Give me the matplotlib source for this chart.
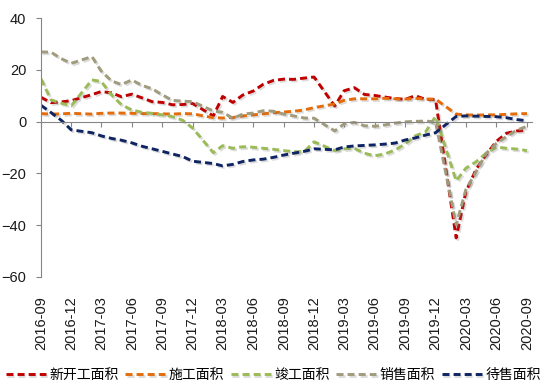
import matplotlib
matplotlib.use("Agg")
import matplotlib.pyplot as plt
import matplotlib.dates as mdates
import matplotlib.patheffects as pe
import pandas as pd

plt.rcParams['font.family'] = ['Liberation Sans', 'Noto Sans CJK SC', 'DejaVu Sans']

months = ['2016-09', '2016-10', '2016-11', '2016-12',
          '2017-02', '2017-03', '2017-04', '2017-05', '2017-06', '2017-07', '2017-08',
          '2017-09', '2017-10', '2017-11', '2017-12',
          '2018-02', '2018-03', '2018-04', '2018-05', '2018-06', '2018-07', '2018-08',
          '2018-09', '2018-10', '2018-11', '2018-12',
          '2019-02', '2019-03', '2019-04', '2019-05', '2019-06', '2019-07', '2019-08',
          '2019-09', '2019-10', '2019-11', '2019-12',
          '2020-02', '2020-03', '2020-04', '2020-05', '2020-06', '2020-07', '2020-08',
          '2020-09']

new_start = [9.4, 7.3, 7.6, 8.1,
             10.4, 11.6, 11.1, 9.6, 10.6, 9.2, 7.7, 7.4, 6.5, 6.6, 7.0,
             2.2, 9.7, 7.4, 10.3, 11.8, 14.4, 15.9, 16.4, 16.3, 16.8, 17.2,
             6.0, 11.9, 13.1, 10.5, 10.1, 9.5, 8.9, 8.6, 10.0, 8.6, 8.5,
             -44.9, -27.2, -18.4, -12.8, -7.6, -4.5, -3.6, -3.4]

construction = [3.1, 2.9, 3.0, 3.2,
                2.9, 3.2, 3.3, 3.3, 3.2, 3.1, 3.1, 3.0, 2.9, 3.1, 3.0,
                1.5, 1.4, 1.6, 2.2, 2.6, 3.0, 3.4, 3.7, 4.0, 4.5, 5.4,
                6.8, 8.2, 8.8, 8.8, 8.8, 9.0, 8.8, 8.7, 9.0, 8.7, 8.7,
                2.9, 2.6, 2.5, 2.6, 2.6, 2.8, 3.0, 3.1]

completion = [16.5, 8.4, 7.1, 6.1,
              16.1, 15.5, 10.3, 6.5, 4.5, 3.6, 3.2, 2.6, 1.9, 0.5, -2.5,
              -12.0, -9.3, -10.3, -9.7, -9.9, -10.3, -10.7, -11.2, -11.6, -11.6, -7.8,
              -11.2, -10.5, -10.3, -12.2, -13.2, -12.5, -11.0, -8.6, -5.5, -4.0, 2.0,
              -22.9, -18.0, -15.5, -12.2, -9.8, -10.3, -10.6, -11.2]

sales = [26.9, 26.8, 24.3, 22.5,
         25.1, 19.5, 15.7, 14.3, 16.1, 14.0, 12.7, 10.3, 8.2, 7.9, 7.7,
         4.1, 3.6, 1.3, 2.9, 3.3, 4.2, 4.0, 2.9, 2.2, 1.4, 1.3,
         -3.6, -0.9, -0.3, -1.6, -1.8, -1.3, -0.6, -0.1, 0.1, 0.2, -0.1,
         -39.9, -26.3, -19.3, -12.3, -8.4, -5.8, -3.3, -1.8]

for_sale = [6.3, 3.5, 0.5, -3.2,
            -4.3, -5.5, -6.5, -7.2, -8.2, -9.5, -10.5, -11.5, -12.5, -13.5, -15.3,
            -16.2, -17.1, -16.5, -15.4, -14.8, -14.5, -13.8, -12.9, -12.2, -11.5, -10.5,
            -10.9, -9.8, -9.4, -9.2, -9.0, -8.7, -8.3, -7.1, -6.3, -5.2, -4.3,
            2.0, 2.2, 2.1, 2.0, 1.9, 1.5, 0.8, 0.3]

series_names = ['新开工面积', '施工面积', '竣工面积', '销售面积', '待售面积']
series_values = [new_start, construction, completion, sales, for_sale]
series_colors = ['#C00000', '#E46C0A', '#9BBB59', '#A09B7C', '#0F2462']

dates = pd.to_datetime(months, format='%Y-%m')

fig = plt.figure(figsize=(5.5, 3.87), dpi=100)
ax = fig.add_axes([41 / 550, 1 - 277 / 387, (532 - 41) / 550, (277 - 18) / 387])

lw = 2.1
for name, vals, col in zip(series_names, series_values, series_colors):
    ax.plot(dates, vals, color=col, lw=lw, dashes=(2.4, 1.4), label=name,
            path_effects=[pe.SimpleLineShadow(offset=(1.2, -1.2), shadow_color='#777777', alpha=0.25),
                          pe.Normal()])

ax.set_ylim(-60, 40)
ax.set_yticks([-60, -40, -20, 0, 20, 40])
ax.set_xlim(pd.Timestamp('2016-09-01'), pd.Timestamp('2020-09-16'))

grey = '#868686'
for s in ['top', 'right']:
    ax.spines[s].set_visible(False)
ax.spines['left'].set_color(grey)
ax.spines['bottom'].set_color(grey)
ax.spines['bottom'].set_position(('data', 0))
ax.tick_params(axis='y', direction='out', length=3.6, color=grey, labelsize=10.5, pad=7, labelcolor='#1a1a1a')
ax.tick_params(axis='x', direction='out', length=3.6, color=grey, labelbottom=False)
ax.xaxis.set_major_locator(mdates.MonthLocator(bymonth=[3, 6, 9, 12]))

sec = ax.secondary_xaxis(0.0)
sec.xaxis.set_major_locator(mdates.MonthLocator(bymonth=[3, 6, 9, 12]))
sec.xaxis.set_major_formatter(mdates.DateFormatter('%Y-%m'))
sec.spines['bottom'].set_visible(False)
sec.tick_params(axis='x', length=0, pad=14, labelsize=10.5, labelrotation=90, labelcolor='#1a1a1a')

fig.legend(loc='center', bbox_to_anchor=(0.497, 1 - 375 / 387), ncol=5, frameon=False,
           fontsize=10, handlelength=2.9, handletextpad=0.25, columnspacing=0.45,
           borderaxespad=0, borderpad=0)

fig.savefig('out.png', dpi=100)
